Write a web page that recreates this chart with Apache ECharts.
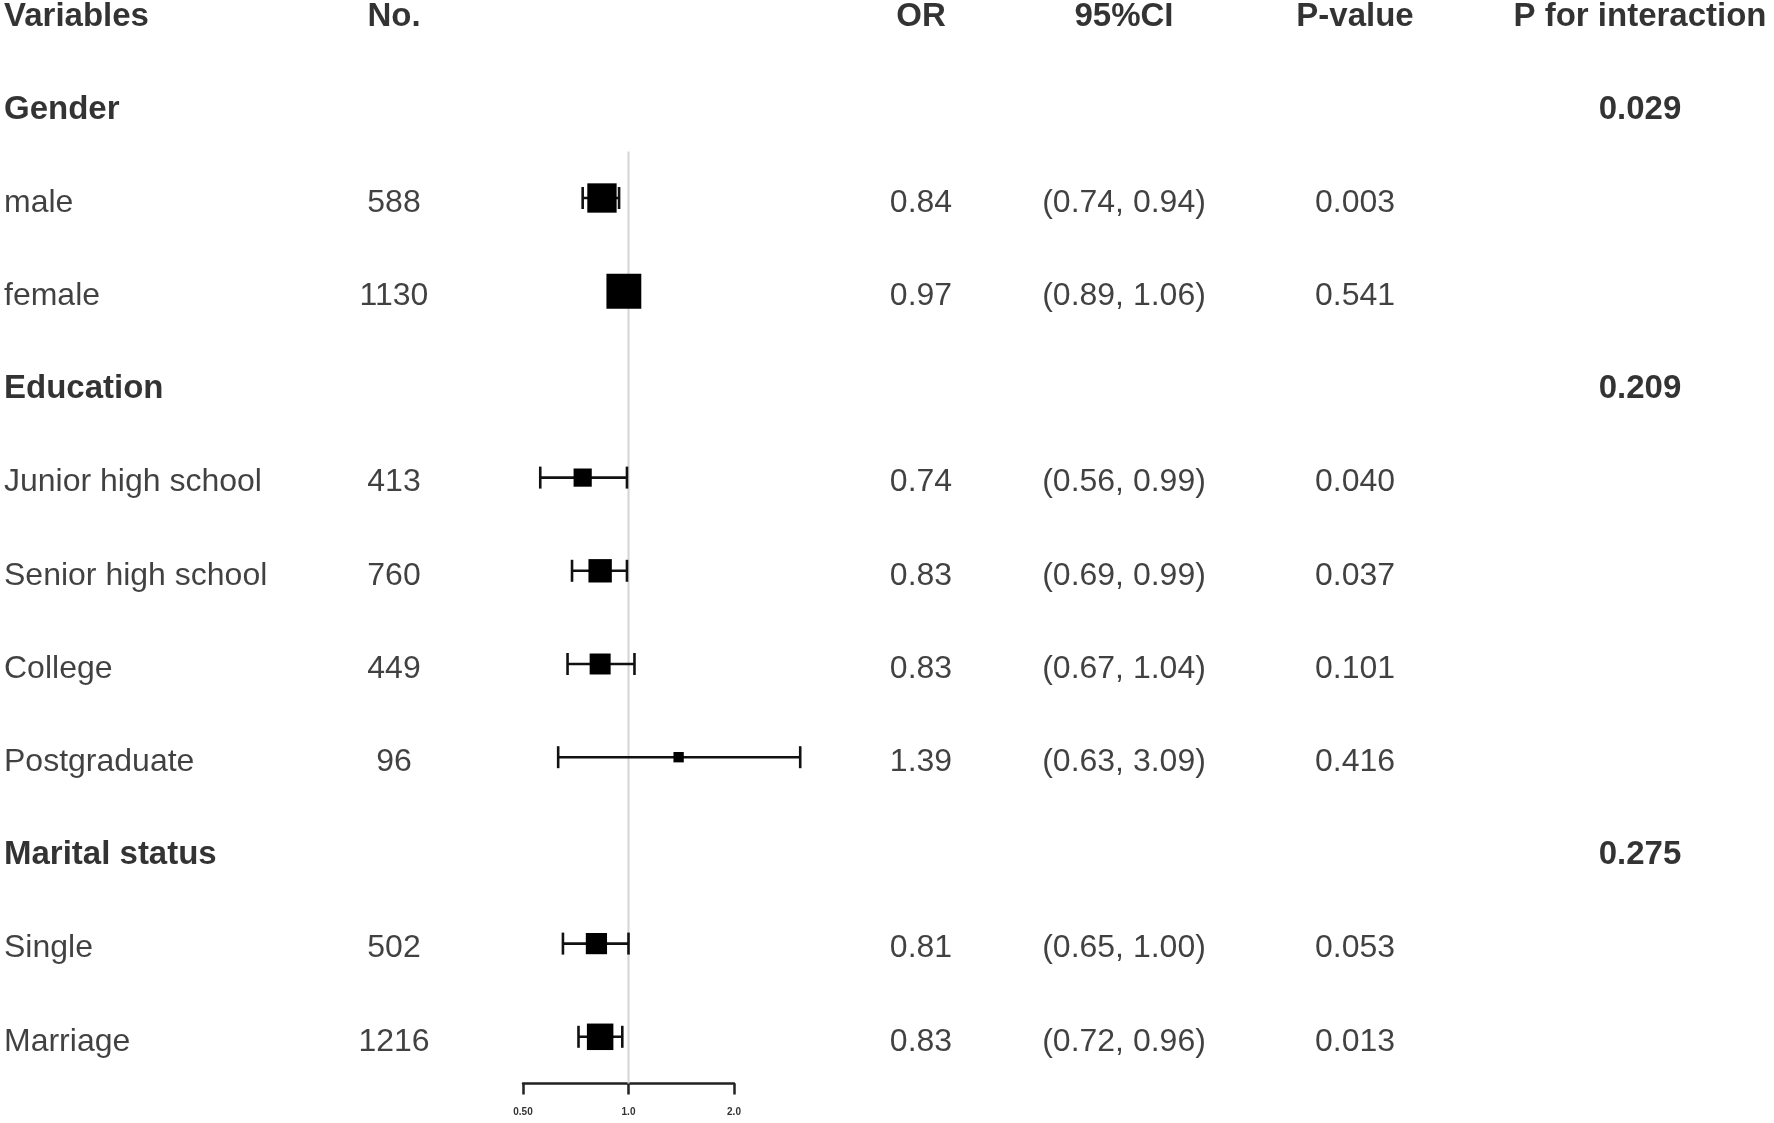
<!DOCTYPE html>
<html>
<head>
<meta charset="utf-8">
<title>Forest plot</title>
<script src="https://cdn.jsdelivr.net/npm/echarts@6/dist/echarts.min.js"></script>
<style>
  html, body { margin: 0; padding: 0; background: #fff; }
  #main { width: 1774px; height: 1123px; }
</style>
</head>
<body>
<div id="main"></div>
<script>
// table data, one entry per row under the header
const headers = ['Variables', 'No.', 'OR', '95%CI', 'P-value', 'P for interaction'];
const variables = ['Gender', 'male', 'female', 'Education', 'Junior high school', 'Senior high school',
  'College', 'Postgraduate', 'Marital status', 'Single', 'Marriage'];
const isGroup = [true, false, false, true, false, false, false, false, true, false, false];
const counts = ['', '588', '1130', '', '413', '760', '449', '96', '', '502', '1216'];
const orValues = [null, 0.84, 0.97, null, 0.74, 0.83, 0.83, 1.39, null, 0.81, 0.83];
const ciLow = [null, 0.74, 0.89, null, 0.56, 0.69, 0.67, 0.63, null, 0.65, 0.72];
const ciHigh = [null, 0.94, 1.06, null, 0.99, 0.99, 1.04, 3.09, null, 1.00, 0.96];
const pValues = ['', '0.003', '0.541', '', '0.040', '0.037', '0.101', '0.416', '', '0.053', '0.013'];
const pInteraction = ['0.029', '', '', '0.209', '', '', '', '', '0.275', '', ''];
const xTicks = [0.5, 1, 2];
const xTickLabels = ['0.50', '1.0', '2.0'];

const FONT = '"Liberation Sans", Arial, sans-serif';
const rowCount = variables.length + 1;   // plus header
const yMax = rowCount - 0.5;

// column anchor positions (table grid runs 0..1774)
const colX = { variables: 4, no: 394, or: 921, ci: 1124, p: 1355, pint: 1640 };

function textSeries(x, texts, align, boldFn) {
  return {
    type: 'scatter',
    xAxisIndex: 1,
    yAxisIndex: 1,
    symbolSize: 0,
    silent: true,
    data: texts.map((t, i) => ({
      value: [x, i],
      text: t,
      label: { fontWeight: boldFn(i) ? 'bold' : 'normal', fontSize: boldFn(i) ? 33 : 32,
        color: boldFn(i) ? '#000' : '#111' }
    })).filter(d => d.text !== ''),
    label: {
      show: true,
      position: 'inside',
      align: align,
      verticalAlign: 'middle',
      offset: [0, 5],
      fontFamily: FONT,
      formatter: p => p.data.text
    }
  };
}

// each column with the header prepended
const colVariables = [headers[0]].concat(variables);
const colNo = [headers[1]].concat(counts);
const colOr = [headers[2]].concat(orValues.map(v => v == null ? '' : v.toFixed(2)));
const colCi = [headers[3]].concat(ciLow.map((lo, i) => lo == null ? '' :
  '(' + lo.toFixed(2) + ', ' + ciHigh[i].toFixed(2) + ')'));
const colP = [headers[4]].concat(pValues);
const colPint = [headers[5]].concat(pInteraction);

const headerOrGroup = i => i === 0 || isGroup[i - 1];
const headerOrInter = i => i === 0 || pInteraction[i - 1] !== '';

const forestData = [];
orValues.forEach((v, i) => {
  if (v != null) forestData.push([v, ciLow[i], ciHigh[i], i + 1]);
});
const firstRow = forestData[0][3];

const chart = echarts.init(document.getElementById('main'));
chart.setOption({
  backgroundColor: '#fff',
  animation: false,
  grid: [
    { left: 523, width: 211, top: 11.6, bottom: 39.6, containLabel: false },
    { left: 0, right: 0, top: 11.6, bottom: 39.6, containLabel: false }
  ],
  xAxis: [
    {
      type: 'log', logBase: 2, min: 0.5, max: 2, gridIndex: 0, position: 'bottom',
      splitLine: { show: false },
      axisLine: { show: true, onZero: false, lineStyle: { color: '#222', width: 2.5 } },
      axisTick: { show: true, length: 11, lineStyle: { color: '#222', width: 2.5 } },
      axisLabel: {
        margin: 24, fontSize: 10, fontFamily: FONT, color: '#333', fontWeight: 'bold',
        formatter: v => {
          let best = 0;
          xTicks.forEach((t, k) => { if (Math.abs(t - v) < Math.abs(xTicks[best] - v)) best = k; });
          return xTickLabels[best];
        }
      }
    },
    { type: 'value', min: 0, max: 1774, gridIndex: 1, show: false }
  ],
  yAxis: [
    { type: 'value', inverse: true, min: 0, max: yMax, gridIndex: 0, show: false },
    { type: 'value', inverse: true, min: 0, max: yMax, gridIndex: 1, show: false }
  ],
  series: [
    {
      // reference line at OR = 1
      type: 'line',
      xAxisIndex: 0, yAxisIndex: 0,
      symbol: 'none', silent: true, z: 1,
      lineStyle: { color: '#d4d4d4', width: 2 },
      data: [[1, firstRow - 0.5], [1, yMax]]
    },
    {
      type: 'custom',
      xAxisIndex: 0, yAxisIndex: 0,
      silent: true, z: 3,
      data: forestData,
      renderItem: (params, api) => {
        const row = api.value(3);
        const lo = api.value(1), hi = api.value(2);
        const pLo = api.coord([lo, row]);
        const pHi = api.coord([hi, row]);
        const pMid = api.coord([api.value(0), row]);
        // box size from inverse standard error
        const se = (Math.log(hi) - Math.log(lo)) / 3.92;
        const size = 6.3 * Math.pow(1 / se, 0.55);
        const capH = 11;
        const stroke = { stroke: '#111', lineWidth: 2.6 };
        return {
          type: 'group',
          children: [
            { type: 'line', shape: { x1: pLo[0], y1: pLo[1], x2: pHi[0], y2: pHi[1] }, style: stroke },
            { type: 'line', shape: { x1: pLo[0], y1: pLo[1] - capH, x2: pLo[0], y2: pLo[1] + capH }, style: stroke },
            { type: 'line', shape: { x1: pHi[0], y1: pHi[1] - capH, x2: pHi[0], y2: pHi[1] + capH }, style: stroke },
            { type: 'rect', shape: { x: pMid[0] - size / 2, y: pMid[1] - size / 2, width: size, height: size },
              style: { fill: '#000' } }
          ]
        };
      }
    },
    textSeries(colX.variables, colVariables, 'left', headerOrGroup),
    textSeries(colX.no, colNo, 'center', i => i === 0),
    textSeries(colX.or, colOr, 'center', i => i === 0),
    textSeries(colX.ci, colCi, 'center', i => i === 0),
    textSeries(colX.p, colP, 'center', i => i === 0),
    textSeries(colX.pint, colPint, 'center', headerOrInter)
  ]
});
</script>
</body>
</html>
